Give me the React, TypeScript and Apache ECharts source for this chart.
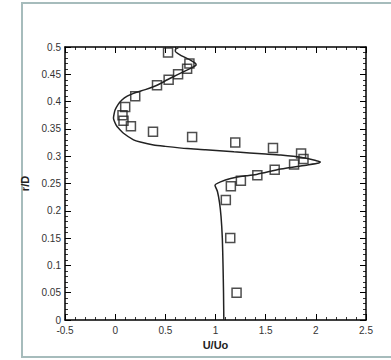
import React, { useEffect, useRef } from "react";
import * as echarts from "echarts";

// Measured data (squares)
const expU = [0.527, 0.74, 0.717, 0.627, 0.533, 0.417, 0.2, 0.1, 0.073, 0.083, 0.157, 0.377, 0.767, 1.197, 1.573, 1.853, 1.877, 1.783, 1.59, 1.417, 1.253, 1.153, 1.103, 1.147, 1.21];
const expR = [0.49, 0.47, 0.46, 0.45, 0.44, 0.43, 0.41, 0.39, 0.375, 0.365, 0.355, 0.345, 0.335, 0.325, 0.315, 0.305, 0.295, 0.285, 0.275, 0.265, 0.255, 0.245, 0.22, 0.15, 0.05];

// Computed profile (solid line), ordered along the curve
const simU = [1.083, 1.08, 1.075, 1.068, 1.055, 1.04, 1.02, 0.995, 1.05, 1.15, 1.3, 1.417, 1.65, 1.917, 2.03, 2.045, 2.0, 1.85, 1.65, 1.5, 1.183, 0.9, 0.717, 0.5, 0.383, 0.25, 0.183, 0.083, 0.03, 0.01, -0.01, -0.017, -0.01, 0.0, 0.03, 0.067, 0.12, 0.183, 0.3, 0.417, 0.52, 0.617, 0.72, 0.783, 0.807, 0.8, 0.75, 0.65, 0.6, 0.6, 0.63];
const simR = [0.0, 0.05, 0.1, 0.15, 0.19, 0.215, 0.235, 0.247, 0.253, 0.259, 0.264, 0.267, 0.2765, 0.284, 0.2875, 0.2895, 0.292, 0.298, 0.302, 0.304, 0.308, 0.312, 0.314, 0.318, 0.3205, 0.326, 0.33, 0.342, 0.352, 0.357, 0.365, 0.37, 0.378, 0.385, 0.395, 0.403, 0.41, 0.415, 0.422, 0.43, 0.44, 0.449, 0.458, 0.464, 0.467, 0.47, 0.476, 0.485, 0.492, 0.495, 0.499];

const xTicks = { min: -0.5, max: 2.5, interval: 0.5 };
const yTicks = { min: 0, max: 0.5, interval: 0.05 };

const FONT = "'Liberation Sans', Arial, sans-serif";

export default function App() {
  const ref = useRef<HTMLDivElement>(null);
  useEffect(() => {
    if (!ref.current) return;
    const chart = echarts.init(ref.current, null, { renderer: "svg" });
    const axisLine = { show: true, onZero: false, lineStyle: { color: "#000", width: 1.5 } };
    const axisTick = { show: true, inside: true, length: 6, lineStyle: { color: "#000", width: 1 } };
    const minorTick = { show: true, splitNumber: 5, length: 3, lineStyle: { color: "#000", width: 0.8 } };
    const label = { color: "#333", fontSize: 10, fontFamily: FONT };
    chart.setOption({
      animation: false,
      backgroundColor: "#fff",
      graphic: [
        {
          type: "rect",
          shape: { x: 22, y: 3, width: 380, height: 354 },
          style: { fill: "none", stroke: "#a6bcbc", lineWidth: 2 },
          silent: true,
        },
      ],
      grid: { left: 65, right: 25, top: 47, bottom: 40, containLabel: false },
      xAxis: [
        {
          type: "value",
          position: "bottom",
          ...xTicks,
          axisLine,
          axisTick,
          minorTick,
          splitLine: { show: false },
          axisLabel: { ...label, margin: 5 },
          name: "U/Uo",
          nameLocation: "middle",
          nameGap: 15,
          nameTextStyle: { color: "#222", fontSize: 11, fontWeight: "bold", fontFamily: FONT },
        },
        {
          type: "value",
          position: "top",
          ...xTicks,
          axisLine,
          axisTick,
          minorTick,
          splitLine: { show: false },
          axisLabel: { show: false },
        },
      ],
      yAxis: [
        {
          type: "value",
          position: "left",
          ...yTicks,
          axisLine,
          axisTick,
          minorTick,
          splitLine: { show: false },
          axisLabel: { ...label, margin: 4 },
          name: "r/D",
          nameLocation: "middle",
          nameGap: 26,
          nameTextStyle: { color: "#222", fontSize: 11, fontWeight: "bold", fontFamily: FONT },
        },
        {
          type: "value",
          position: "right",
          ...yTicks,
          axisLine,
          axisTick,
          minorTick,
          splitLine: { show: false },
          axisLabel: { show: false },
        },
      ],
      series: [
        {
          type: "line",
          data: simU.map((u, i) => [u, simR[i]]),
          showSymbol: false,
          smooth: 0.2,
          lineStyle: { color: "#222", width: 1.5 },
          z: 2,
        },
        {
          type: "scatter",
          data: expU.map((u, i) => [u, expR[i]]),
          symbol: "rect",
          symbolSize: 9,
          itemStyle: { color: "rgba(255,255,255,0)", borderColor: "#222", borderWidth: 1.5 },
          z: 3,
        },
      ],
    });
    return () => chart.dispose();
  }, []);
  return (
    <div
      ref={ref}
      style={{ position: "absolute", left: 0, top: 0, width: 391, height: 360 }}
    />
  );
}
